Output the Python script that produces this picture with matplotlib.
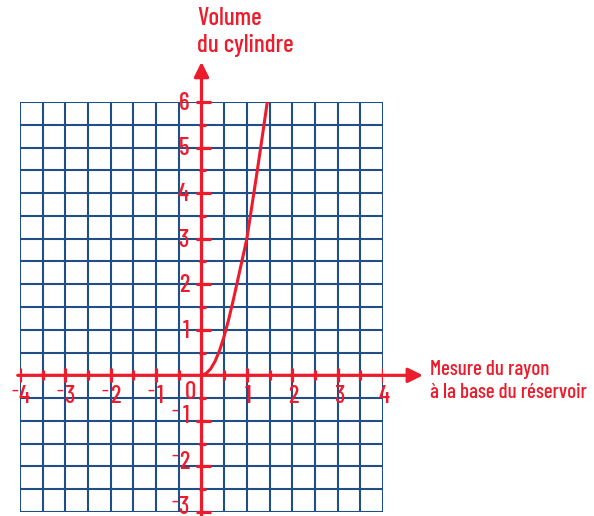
import numpy as np
import matplotlib
matplotlib.use("Agg")
import matplotlib.pyplot as plt

RED = "#ec1c2c"
BLUE = "#1f4f86"

# curve (radius, volume)
radius = [0, 0.1, 0.2, 0.3, 0.4, 0.5, 0.6, 0.7, 0.8, 0.9, 1.0, 1.1, 1.2, 1.3, 1.45]
volume = [0, 0.04, 0.14, 0.31, 0.55, 0.86, 1.23, 1.65, 2.1, 2.55, 3.0, 3.65, 4.3, 4.97, 6.0]

x_ticks = [-4, -3, -2, -1, 1, 2, 3, 4]
y_ticks = [-3, -2, -1, 1, 2, 3, 4, 5, 6]
x_half = [-3.5, -2.5, -1.5, -0.5, 0.5, 1.5, 2.5, 3.5]
y_half = [-2.5, -1.5, -0.5, 0.5, 1.5, 2.5, 3.5, 4.5, 5.5]

x_title = "Mesure du rayon\nà la base du réservoir"
y_title = "Volume\ndu cylindre"

FONT = ["Barlow Condensed", "Sofia Sans Condensed", "Liberation Sans Narrow", "DejaVu Sans"]
plt.rcParams["font.family"] = FONT
plt.rcParams["font.weight"] = 500

fig = plt.figure(figsize=(5.94, 5.16), dpi=100)
ax = fig.add_axes([20 / 594, 4 / 516, 363 / 594, 410 / 516])
ax.set_xlim(-4, 4)
ax.set_ylim(-3, 6)
ax.axis("off")

# grid every half unit
gx = np.arange(-4, 4.01, 0.5)
gy = np.arange(-3, 6.01, 0.5)
ax.vlines(gx, -3, 6, color=BLUE, lw=1.5, zorder=1)
ax.hlines(gy, -4, 4, color=BLUE, lw=1.5, zorder=1)

# axes with arrows
ax.annotate("", xy=(4.88, 0), xytext=(-4.05, 0), annotation_clip=False,
            arrowprops=dict(arrowstyle="-|>", color=RED, lw=2.3, mutation_scale=22,
                            shrinkA=0, shrinkB=0), zorder=3)
ax.annotate("", xy=(0, 6.88), xytext=(0, -3.08), annotation_clip=False,
            arrowprops=dict(arrowstyle="-|>", color=RED, lw=2.3, mutation_scale=22,
                            shrinkA=0, shrinkB=0), zorder=3)

# tick marks
ux = 45.4  # px per unit
ax.vlines(x_ticks, -7 / ux, 7 / ux, color=RED, lw=2.3, zorder=3)
ax.vlines(x_half, -5 / ux, 5 / ux, color=RED, lw=2.3, zorder=3)
ax.hlines(y_ticks, -6 / ux, 9.5 / ux, color=RED, lw=2.3, zorder=3, clip_on=False)
ax.hlines(y_half, -3 / ux, 5 / ux, color=RED, lw=2.3, zorder=3)

# curve
ax.plot(radius, volume, color=RED, lw=2.2, zorder=4, solid_capstyle="butt")

# tick labels (minus sign drawn small and raised, as in the original)
fs = 18
for t in x_ticks:
    if t > 0:
        ax.annotate(str(t), (t, 0), xytext=(1, -7), textcoords="offset points",
                    ha="center", va="top", color=RED, fontsize=fs)
    else:
        ax.annotate("\u2013", (t, 0), xytext=(-1.5, -15), textcoords="offset points",
                    ha="right", va="baseline", color=RED, fontsize=13,
                    annotation_clip=False)
        ax.annotate(str(-t), (t, 0), xytext=(3, -7), textcoords="offset points",
                    ha="center", va="top", color=RED, fontsize=fs,
                    annotation_clip=False)
for t in y_ticks:
    if t > 0:
        ax.annotate(str(t), (0, t), xytext=(-9, -1), textcoords="offset points",
                    ha="right", va="center", color=RED, fontsize=fs)
    else:
        ax.annotate(str(-t), (0, t), xytext=(-9, 3), textcoords="offset points",
                    ha="right", va="center", color=RED, fontsize=fs,
                    annotation_clip=False)
        ax.annotate("\u2013", (0, t), xytext=(-17, 4), textcoords="offset points",
                    ha="right", va="baseline", color=RED, fontsize=13,
                    annotation_clip=False)
ax.annotate("0", (0, 0), xytext=(-8, -4), textcoords="offset points",
            ha="center", va="top", color=RED, fontsize=fs)

# axis titles
fig.text(197 / 594, 1 - 7 / 516, y_title, ha="left", va="top", color=RED,
         fontsize=18, linespacing=1.2)
fig.text(430 / 594, 1 - 360 / 516, x_title, ha="left", va="top", color=RED,
         fontsize=15, linespacing=1.25)

fig.savefig("out.png", dpi=100)
